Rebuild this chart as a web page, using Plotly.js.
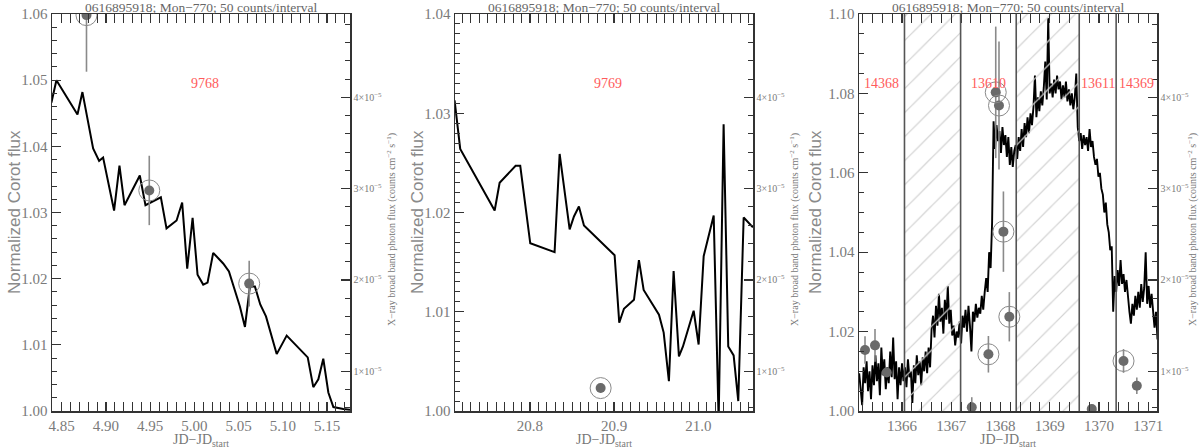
<!DOCTYPE html>
<html>
<head>
<meta charset="utf-8">
<script src="https://cdn.plot.ly/plotly-3.0.1.min.js"></script>
<style>html,body{margin:0;padding:0;background:#fff;}#chart{width:1200px;height:448px;}</style>
</head>
<body>
<div id="chart"></div>
<script>
// ---------- DATA ----------
const panelTitle = '0616895918; Mon\u2212770; 50 counts/interval';
const obsIds1 = ['9768'];
const obsIds2 = ['9769'];

// Panel 1 CoRoT light curve
const t1 = [4.8383,4.8440,4.8678,4.8734,4.8855,4.8923,4.8968,4.9092,4.9153,4.9210,4.9383,4.9447,4.9621,4.9685,4.9799,4.9862,4.9919,4.9980,5.0036,5.0100,5.0149,5.0213,5.0326,5.0391,5.0515,5.0572,5.0628,5.0685,5.0745,5.0810,5.0931,5.1044,5.1282,5.1345,5.1402,5.1458,5.1515,5.1572,5.1685,5.1760];
const f1 = [1.0466,1.0500,1.0448,1.0482,1.0397,1.0378,1.0383,1.0303,1.0371,1.0311,1.0356,1.0311,1.0323,1.0276,1.0288,1.0315,1.0215,1.0292,1.0206,1.0191,1.0194,1.0239,1.0223,1.0211,1.0158,1.0127,1.0188,1.0188,1.0161,1.0143,1.0086,1.0114,1.0081,1.0036,1.0048,1.0079,1.0028,1.0006,1.0003,1.0002];

// Panel 1 X-ray fluxes
const xt1 = [4.878, 4.949, 5.062];
const xf1 = [4.90e-5, 2.98e-5, 1.96e-5];
const xe1 = [0.62e-5, 0.38e-5, 0.25e-5];
const xc1 = [1, 1, 1];

// Panel 2 CoRoT light curve
const t2 = [20.7105,20.7172,20.7581,20.7640,20.7830,20.7885,20.8004,20.8293,20.8353,20.8472,20.8523,20.8582,20.8642,20.9006,20.9061,20.9117,20.9236,20.9295,20.9351,20.9533,20.9589,20.9651,20.9707,20.9770,20.9818,20.9945,21.0004,21.0064,21.0183,21.0242,21.0301,21.0356,21.0420,21.0475,21.0539,21.0649];
const f2 = [1.0313,1.0264,1.0202,1.0230,1.0247,1.0247,1.0169,1.0160,1.0259,1.0183,1.0196,1.0206,1.0187,1.0157,1.0089,1.0103,1.0112,1.0152,1.0122,1.0097,1.0079,1.0030,1.0141,1.0055,1.0065,1.0101,1.0067,1.0156,1.0197,0.9990,1.0289,1.0065,1.0056,1.0010,1.0195,1.0185];

// Panel 2 X-ray fluxes
const xt2 = [20.884];
const xf2 = [0.816e-5];
const xe2 = [0.05e-5];
const xc2 = [1];

// Panel 3 CoRoT light curve
const t3 = [
1365.13,1365.16,1365.19,1365.22,1365.25,1365.28,1365.31,1365.34,1365.37,1365.40,
1365.43,1365.46,1365.49,1365.52,1365.55,1365.58,1365.61,1365.64,1365.67,1365.70,
1365.73,1365.76,1365.79,1365.82,1365.85,1365.88,1365.91,1365.94,1365.97,1366.00,
1366.03,1366.06,1366.09,1366.12,1366.15,1366.18,1366.21,1366.24,1366.27,1366.30,
1366.33,1366.36,1366.39,1366.42,1366.45,1366.48,1366.51,1366.54,1366.57,1366.60,
1366.63,1366.66,1366.69,1366.72,1366.75,1366.78,1366.81,1366.84,1366.87,1366.90,
1366.93,1366.96,1366.99,1367.02,1367.05,1367.08,1367.11,1367.14,1367.17,1367.20,
1367.23,1367.26,1367.29,1367.32,1367.35,1367.38,1367.41,1367.44,1367.47,1367.50,
1367.53,1367.56,1367.59,1367.62,1367.65,1367.68,1367.71,1367.74,1367.77,1367.80,
1367.83,1367.86,1367.89,1367.92,1367.95,1367.98,1368.01,1368.04,1368.07,1368.10,
1368.13,1368.16,1368.19,1368.22,1368.25,1368.28,1368.31,1368.34,1368.37,1368.40,
1368.43,1368.46,1368.49,1368.52,1368.55,1368.58,1368.61,1368.64,1368.67,1368.70,
1368.73,1368.76,1368.79,1368.82,1368.85,1368.88,1368.91,1368.94,1368.97,1369.00,
1369.03,1369.06,1369.09,1369.12,1369.15,1369.18,1369.21,1369.24,1369.27,1369.30,
1369.33,1369.36,1369.39,1369.42,1369.45,1369.48,1369.51,1369.54,1369.57,1369.60,
1369.63,1369.66,1369.69,1369.72,1369.75,1369.78,1369.81,1369.84,1369.87,1369.90,
1369.93,1369.96,1369.99,1370.02,1370.05,1370.08,1370.11,1370.14,1370.17,1370.20,
1370.23,1370.26,1370.29,1370.32,1370.35,1370.38,1370.41,1370.44,1370.47,1370.50,
1370.53,1370.56,1370.59,1370.62,1370.65,1370.68,1370.71,1370.74,1370.77,1370.80,
1370.83,1370.86,1370.89,1370.92,1370.95,1370.98,1371.01,1371.04,1371.07,1371.10,
1371.13,1371.16,1371.19];
const f3 = [
1.0095,1.0060,1.0015,1.0110,1.0070,1.0125,1.0050,1.0100,1.0030,1.0115,
1.0065,1.0140,1.0075,1.0120,1.0040,1.0160,1.0090,1.0130,1.0055,1.0110,
1.0070,1.0150,1.0085,1.0185,1.0080,1.0125,1.0030,1.0110,1.0065,1.0120,
1.0075,1.0110,1.0060,1.0130,1.0085,1.0100,1.0020,1.0115,1.0070,1.0140,
1.0090,1.0125,1.0065,1.0135,1.0100,1.0150,1.0095,1.0160,1.0110,1.0205,
1.0240,1.0185,1.0265,1.0215,1.0295,1.0225,1.0260,1.0195,1.0280,1.0230,
1.0315,1.0220,1.0255,1.0190,1.0215,1.0165,1.0200,1.0185,1.0225,1.0170,
1.0240,1.0210,1.0255,1.0200,1.0265,1.0215,1.0150,1.0250,1.0225,1.0270,
1.0235,1.0260,1.0245,1.0290,1.0255,1.0300,1.0335,1.0300,1.0400,1.0360,
1.0475,1.0730,1.0660,1.0720,1.0680,1.0705,1.0650,1.0715,1.0670,1.0695,
1.0640,1.0690,1.0620,1.0665,1.0615,1.0655,1.0670,1.0635,1.0690,1.0655,
1.0710,1.0665,1.0725,1.0690,1.0740,1.0700,1.0750,1.0720,1.0765,1.0845,
1.0740,1.0790,1.0755,1.0805,1.0770,1.0815,1.0880,1.0785,1.0990,1.0800,
1.0825,1.0790,1.0835,1.0800,1.0845,1.0810,1.0830,1.0785,1.0820,1.0790,
1.0830,1.0780,1.0810,1.0770,1.0800,1.0760,1.0790,1.0850,1.0715,1.0680,
1.0700,1.0660,1.0695,1.0670,1.0690,1.0655,1.0710,1.0665,1.0680,1.0640,
1.0620,1.0635,1.0590,1.0600,1.0560,1.0545,1.0500,1.0525,1.0470,1.0450,
1.0405,1.0415,1.0250,1.0340,1.0300,1.0355,1.0315,1.0380,1.0320,1.0345,
1.0300,1.0330,1.0285,1.0250,1.0220,1.0270,1.0240,1.0290,1.0255,1.0300,
1.0260,1.0320,1.0275,1.0310,1.0400,1.0270,1.0315,1.0260,1.0295,1.0240,
1.0210,1.0250,1.0180];

// Panel 3 X-ray fluxes
const xt3 = [1365.248,1365.451,1365.689,1367.417,1367.755,1367.904,1367.970,1368.060,1368.180,1369.855,1370.500,1370.770];
const xf3 = [1.233e-5,1.284e-5,0.987e-5,0.606e-5,1.186e-5,4.054e-5,3.910e-5,2.529e-5,1.597e-5,0.587e-5,1.113e-5,0.841e-5];
const xe3 = [0.15e-5,0.18e-5,0.05e-5,0.11e-5,0.20e-5,0.72e-5,0.70e-5,0.44e-5,0.27e-5,0.05e-5,0.13e-5,0.09e-5];
const xc3 = [0,0,0,0,1,1,1,1,1,0,1,0];

// Panel 3 Chandra observation windows and hatched intervals
const obsIds3 = ['14368','13610','13611','14369'];
const obsStart3 = [1365.126, 1367.19, 1369.60, 1370.35];
const obsEnd3   = [1366.05, 1368.32, 1370.35, 1371.18];
const hatchStart3 = [1366.05, 1368.32];
const hatchEnd3   = [1367.19, 1369.60];
const boundaries3 = [1366.05, 1367.19, 1368.32, 1369.60, 1370.35];

// Right-axis tick values
const xrayTicks = [1e-5, 2e-5, 3e-5, 4e-5];
const xrayTickText = ['1\u00d710<sup>\u22125</sup>','2\u00d710<sup>\u22125</sup>','3\u00d710<sup>\u22125</sup>','4\u00d710<sup>\u22125</sup>'];

// ---------- LAYOUT HELPERS ----------
const W = 1200, H = 448;
const px = v => v / W;
const py = v => 1 - v / H;
const yDom = [py(411), py(14)];
const xDoms = [[px(52), px(350)], [px(455), px(753)], [px(859), px(1157)]];
const xRanges = [[4.839, 5.176], [20.711, 21.065], [1365.126, 1371.18]];
const yRanges = [[1.00, 1.06], [1.00, 1.04], [1.00, 1.10]];
const y2Range = [0.565e-5, 4.912e-5];
const xDticks = [0.05, 0.1, 1];
const xMinor = [0.01, 0.01, 0.2];
const xFormat = ['.2f', '.1f', 'd'];
const yDticks = [0.01, 0.01, 0.02];
const yMinor = [0.002, 0.001, 0.005];

const AX = '#333';
const TICKC = '#7a7a7a';
const layout = {
  width: W, height: H,
  margin: {l: 0, r: 0, t: 0, b: 0},
  paper_bgcolor: '#fff', plot_bgcolor: '#fff',
  showlegend: false,
  font: {family: 'Liberation Serif, DejaVu Serif, serif', color: TICKC},
  annotations: [], shapes: []
};

for (let i = 0; i < 3; i++) {
  const n = i + 1;
  const xk = n === 1 ? 'xaxis' : 'xaxis' + n;
  const yk = n === 1 ? 'yaxis' : 'yaxis' + n;
  const y2k = 'yaxis' + (n + 3);
  const xr = n === 1 ? 'x' : 'x' + n;
  const yr = n === 1 ? 'y' : 'y' + n;
  layout[xk] = {
    domain: xDoms[i], anchor: yr, range: xRanges[i],
    showline: true, linecolor: AX, linewidth: 1.5, mirror: 'allticks',
    ticks: 'inside', ticklen: 9, tickwidth: 1.2, tickcolor: AX,
    dtick: xDticks[i], tick0: 0, tickformat: xFormat[i],
    minor: {dtick: xMinor[i], tick0: 0, ticks: 'inside', ticklen: 5, tickwidth: 1, tickcolor: AX},
    showgrid: false, zeroline: false,
    tickfont: {size: 15, color: TICKC}
  };
  layout[yk] = {
    domain: yDom, anchor: xr, range: yRanges[i],
    showline: true, linecolor: AX, linewidth: 1.5, mirror: true,
    ticks: 'inside', ticklen: 9, tickwidth: 1.2, tickcolor: AX,
    dtick: yDticks[i], tick0: 0, tickformat: '.2f',
    minor: {dtick: yMinor[i], tick0: 0, ticks: 'inside', ticklen: 5, tickwidth: 1, tickcolor: AX},
    showgrid: false, zeroline: false,
    tickfont: {size: 15, color: TICKC}
  };
  layout[y2k] = {
    overlaying: yr, anchor: xr, side: 'right', range: y2Range,
    showline: true, linecolor: AX, linewidth: 1.5,
    ticks: 'inside', ticklen: 9, tickwidth: 1.2, tickcolor: AX,
    tickmode: 'array', tickvals: xrayTicks, ticktext: xrayTickText,
    minor: {dtick: 0.2e-5, tick0: 0, ticks: 'inside', ticklen: 5, tickwidth: 1, tickcolor: AX},
    showgrid: false, zeroline: false,
    tickfont: {size: 10, color: TICKC}
  };
  const cx = (xDoms[i][0] + xDoms[i][1]) / 2;
  layout.annotations.push({
    text: panelTitle, xref: 'paper', yref: 'paper', x: cx, y: py(7),
    showarrow: false, xanchor: 'center', yanchor: 'middle',
    font: {size: 13.5, color: '#666'}
  });
  layout.annotations.push({
    text: 'JD\u2212JD<sub>start</sub>', xref: 'paper', yref: 'paper', x: cx, y: py(440),
    showarrow: false, xanchor: 'center', yanchor: 'middle',
    font: {size: 14, color: '#777'}
  });
  layout.annotations.push({
    text: 'Normalized Corot flux', xref: 'paper', yref: 'paper',
    x: px([14, 417, 815][i]), y: py(212), textangle: -90,
    showarrow: false, xanchor: 'center', yanchor: 'middle',
    font: {family: 'Liberation Sans, Arial, sans-serif', size: 17, color: '#8a8a8a'}
  });
  layout.annotations.push({
    text: 'X\u2212ray broad band photon flux (counts cm<sup>\u22122</sup> s<sup>\u22121</sup>)',
    xref: 'paper', yref: 'paper',
    x: px([392, 795, 1193][i]), y: py(230), textangle: -90,
    showarrow: false, xanchor: 'center', yanchor: 'middle',
    font: {size: 10, color: '#777'}
  });
}

// Observation ID labels
const RED = '#ff5b5b';
[obsIds1, obsIds2].forEach((ids, i) => {
  layout.annotations.push({
    text: ids[0], xref: 'paper', yref: 'paper',
    x: (xDoms[i][0] + xDoms[i][1]) / 2 + 0.003, y: py(83),
    showarrow: false, xanchor: 'center', yanchor: 'middle',
    font: {size: 14, color: RED}
  });
});
obsIds3.forEach((id, k) => {
  layout.annotations.push({
    text: id, xref: 'x3', yref: 'paper',
    x: (obsStart3[k] + obsEnd3[k]) / 2, y: py(83),
    showarrow: false, xanchor: 'center', yanchor: 'middle',
    font: {size: 14, color: RED}
  });
});

// Boundary lines panel 3
boundaries3.forEach(b => {
  layout.shapes.push({
    type: 'line', xref: 'x3', yref: 'y3 domain', x0: b, x1: b, y0: 0, y1: 1,
    line: {color: '#555', width: 1.6}, layer: 'above'
  });
});

// ---------- TRACES ----------
const traces = [];
traces.push({x: t1, y: f1, xaxis: 'x', yaxis: 'y', type: 'scatter', mode: 'lines',
  line: {color: '#000', width: 2}, hoverinfo: 'skip'});
traces.push({x: t2, y: f2, xaxis: 'x2', yaxis: 'y2', type: 'scatter', mode: 'lines',
  line: {color: '#000', width: 2}, hoverinfo: 'skip'});
traces.push({x: t3, y: f3, xaxis: 'x3', yaxis: 'y3', type: 'scatter', mode: 'lines',
  line: {color: '#000', width: 1.9}, hoverinfo: 'skip'});

// Hatched windows (drawn above the curve, like the original)
hatchStart3.forEach((s, k) => {
  const e = hatchEnd3[k];
  const y0 = yRanges[2][0], y1 = yRanges[2][1];
  traces.push({
    x: [s, e, e, s, s], y: [y0, y0, y1, y1, y0], xaxis: 'x3', yaxis: 'y3',
    type: 'scatter', mode: 'lines', fill: 'toself',
    line: {width: 0, color: 'rgba(0,0,0,0)'},
    fillcolor: 'rgba(0,0,0,0)',
    fillpattern: {shape: '/', size: 17, solidity: 0.07, fgcolor: '#d2d2d2', bgcolor: 'rgba(0,0,0,0)'},
    hoverinfo: 'skip'
  });
});

// X-ray points
const xray = [[xt1, xf1, xe1, xc1, 'x', 'y4'], [xt2, xf2, xe2, xc2, 'x2', 'y5'], [xt3, xf3, xe3, xc3, 'x3', 'y6']];
xray.forEach(([xt, xf, xe, xc, xa, ya]) => {
  traces.push({
    x: xt, y: xf, xaxis: xa, yaxis: ya, type: 'scatter', mode: 'markers',
    marker: {size: 10, color: '#6a6a6a'},
    error_y: {type: 'data', array: xe, visible: true, color: '#8a8a8a', thickness: 1.6, width: 0},
    hoverinfo: 'skip'
  });
  const cx = [], cy = [];
  xt.forEach((v, k) => { if (xc[k]) { cx.push(v); cy.push(xf[k]); } });
  traces.push({
    x: cx, y: cy, xaxis: xa, yaxis: ya, type: 'scatter', mode: 'markers',
    marker: {size: 21, symbol: 'circle-open', color: '#8a8a8a', line: {width: 1, color: '#8a8a8a'}},
    hoverinfo: 'skip'
  });
});

Plotly.newPlot('chart', traces, layout, {staticPlot: true, displayModeBar: false});
</script>
</body>
</html>
